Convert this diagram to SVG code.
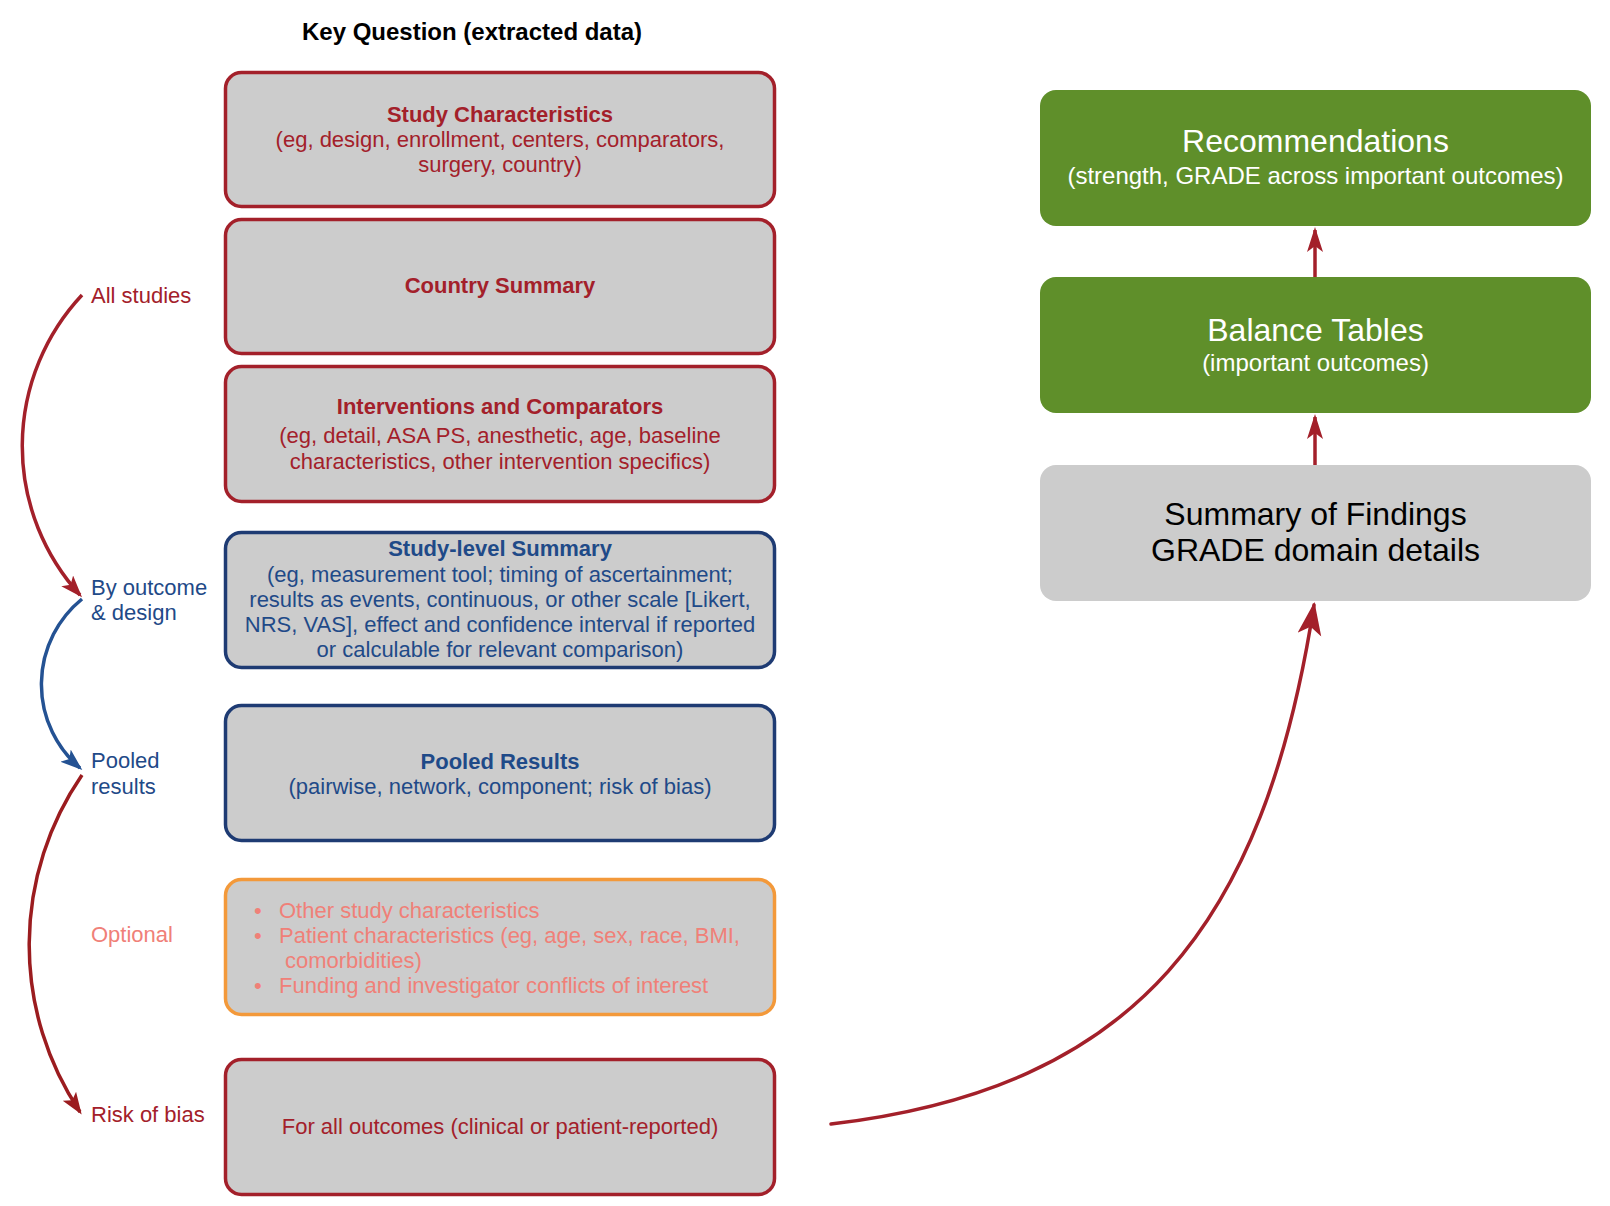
<svg xmlns="http://www.w3.org/2000/svg" width="1610" height="1206" viewBox="0 0 1610 1206">
  <style>
    text { font-family: "Liberation Sans", Arial, Helvetica, sans-serif; }
    .lbox { fill: #cccccc; stroke-width: 3.5; }
    .red { stroke: #a3202a; }
    .blue { stroke: #1e3b73; }
    .orange { stroke: #f3993a; }
    .green { fill: #5f8f2a; }
    .gray { fill: #cccccc; }
    .t22 { font-size: 22px; text-anchor: middle; }
    .b { font-weight: bold; }
    .tred { fill: #a3202a; }
    .tblue { fill: #1f4a88; }
    .tsalmon { fill: #f08078; }
    .lbl { font-size: 22px; }
    .big { font-size: 32px; text-anchor: middle; }
    .mid { font-size: 24px; text-anchor: middle; }
    .conn { fill: none; stroke-width: 3.5; }
  </style>
  <defs>
    <marker id="arRed" markerUnits="userSpaceOnUse" markerWidth="24" markerHeight="18" refX="19" refY="8" orient="auto">
      <path d="M0,0 L22,8 L0,16 L5,8 z" fill="#a3202a"/>
    </marker>
    <marker id="arBlue" markerUnits="userSpaceOnUse" markerWidth="24" markerHeight="18" refX="19" refY="8" orient="auto">
      <path d="M0,0 L22,8 L0,16 L5,8 z" fill="#245293"/>
    </marker>
    <marker id="arDark" markerUnits="userSpaceOnUse" markerWidth="24" markerHeight="18" refX="19" refY="8" orient="auto">
      <path d="M0,0 L22,8 L0,16 L5,8 z" fill="#9b1c1f"/>
    </marker>
    <marker id="arUp" markerUnits="userSpaceOnUse" markerWidth="28" markerHeight="18" refX="22" refY="8" orient="auto">
      <path d="M0,0 L25,8 L0,16 L6,8 z" fill="#a3202a"/>
    </marker>
    <marker id="arBig" markerUnits="userSpaceOnUse" markerWidth="36" markerHeight="26" refX="30" refY="12" orient="auto">
      <path d="M0,0 L33,12 L0,24 L8,12 z" fill="#a3202a"/>
    </marker>
  </defs>

  <text id="title" x="472" y="40" font-size="24" font-weight="bold" text-anchor="middle" fill="#000">Key Question (extracted data)</text>

  <g id="study-characteristics">
    <rect class="lbox red" x="225.5" y="72.5" width="549" height="134" rx="16"/>
    <text class="t22 tred" x="500"><tspan class="b" x="500" y="122">Study Characteristics</tspan><tspan x="500" y="147">(eg, design, enrollment, centers, comparators,</tspan><tspan x="500" y="172">surgery, country)</tspan></text>
  </g>

  <g id="country-summary">
    <rect class="lbox red" x="225.5" y="219.5" width="549" height="134" rx="16"/>
    <text class="t22 tred b" x="500" y="293">Country Summary</text>
  </g>

  <g id="interventions">
    <rect class="lbox red" x="225.5" y="366.5" width="549" height="135" rx="16"/>
    <text class="t22 tred" x="500"><tspan class="b" x="500" y="414">Interventions and Comparators</tspan><tspan x="500" y="443">(eg, detail, ASA PS, anesthetic, age, baseline</tspan><tspan x="500" y="469">characteristics, other intervention specifics)</tspan></text>
  </g>

  <g id="study-level-summary">
    <rect class="lbox blue" x="225.5" y="532.5" width="549" height="135" rx="16"/>
    <text class="t22 tblue" x="500"><tspan class="b" x="500" y="556">Study-level Summary</tspan><tspan x="500" y="582">(eg, measurement tool; timing of ascertainment;</tspan><tspan x="500" y="607">results as events, continuous, or other scale [Likert,</tspan><tspan x="500" y="632">NRS, VAS], effect and confidence interval if reported</tspan><tspan x="500" y="657">or calculable for relevant comparison)</tspan></text>
  </g>

  <g id="pooled-results">
    <rect class="lbox blue" x="225.5" y="705.5" width="549" height="135" rx="16"/>
    <text class="t22 tblue" x="500"><tspan class="b" x="500" y="769">Pooled Results</tspan><tspan x="500" y="794">(pairwise, network, component; risk of bias)</tspan></text>
  </g>

  <g id="optional">
    <rect class="lbox orange" x="225.5" y="879.5" width="549" height="135" rx="16"/>
    <g class="lbl tsalmon">
      <text x="254" y="918">•</text>
      <text x="279" y="918">Other study characteristics</text>
      <text x="254" y="943">•</text>
      <text x="279" y="943">Patient characteristics (eg, age, sex, race, BMI,</text>
      <text x="285" y="968">comorbidities)</text>
      <text x="254" y="993">•</text>
      <text x="279" y="993">Funding and investigator conflicts of interest</text>
    </g>
  </g>

  <g id="risk-of-bias">
    <rect class="lbox red" x="225.5" y="1059.5" width="549" height="135" rx="16"/>
    <text class="t22 tred" x="500" y="1134">For all outcomes (clinical or patient-reported)</text>
  </g>

  <g id="recommendations">
    <rect class="green" x="1040" y="90" width="551" height="136" rx="16"/>
    <text class="big" x="1315.5" y="152" fill="#ffffff">Recommendations</text>
    <text class="mid" x="1315.5" y="184" fill="#ffffff">(strength, GRADE across important outcomes)</text>
  </g>

  <g id="balance-tables">
    <rect class="green" x="1040" y="277" width="551" height="136" rx="16"/>
    <text class="big" x="1315.5" y="341" fill="#ffffff">Balance Tables</text>
    <text class="mid" x="1315.5" y="371" fill="#ffffff">(important outcomes)</text>
  </g>

  <g id="summary-of-findings">
    <rect class="gray" x="1040" y="465" width="551" height="136" rx="16"/>
    <text class="big" x="1315.5" y="525" fill="#000000">Summary of Findings</text>
    <text class="big" x="1315.5" y="561" fill="#000000">GRADE domain details</text>
  </g>

  <g id="labels" class="lbl">
    <text class="tred" x="91" y="303">All studies</text>
    <text class="tblue" x="91" y="595">By outcome</text>
    <text class="tblue" x="91" y="620">&amp; design</text>
    <text class="tblue" x="91" y="768">Pooled</text>
    <text class="tblue" x="91" y="794">results</text>
    <text class="tsalmon" x="91" y="942">Optional</text>
    <text class="tred" x="91" y="1122">Risk of bias</text>
  </g>

  <g id="connectors">
    <path class="conn" stroke="#a3202a" d="M82,295 A221,221 0 0 0 80,595" marker-end="url(#arRed)"/>
    <path class="conn" stroke="#245293" d="M82,599 A110,110 0 0 0 80,768" marker-end="url(#arBlue)"/>
    <path class="conn" stroke="#9b1c1f" d="M82,775 A300,300 0 0 0 80,1112" marker-end="url(#arDark)"/>
    <path class="conn" stroke="#a3202a" d="M1315,277 L1315,230" marker-end="url(#arUp)"/>
    <path class="conn" stroke="#a3202a" d="M1315,465 L1315,417" marker-end="url(#arUp)"/>
    <path class="conn" stroke="#a3202a" stroke-linecap="round" d="M831,1124 C1136,1088 1264,926 1314,605" marker-end="url(#arBig)"/>
  </g>
</svg>
